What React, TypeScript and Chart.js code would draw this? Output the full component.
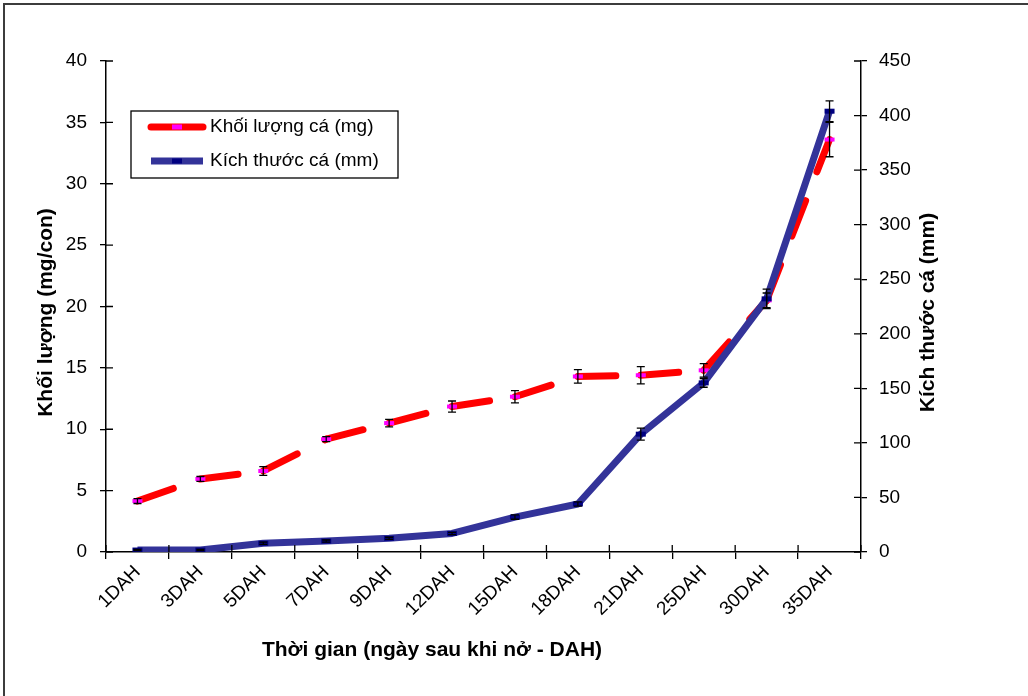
import React, { useEffect, useRef } from 'react';
import { Chart, registerables } from 'chart.js';

Chart.register(...registerables);

// ---- data ----
const categories = ['1DAH', '3DAH', '5DAH', '7DAH', '9DAH', '12DAH', '15DAH', '18DAH', '21DAH', '25DAH', '30DAH', '35DAH'];
const weightMg = [4.15, 5.95, 6.6, 9.2, 10.5, 11.85, 12.65, 14.3, 14.4, 14.8, 20.5, 33.6];
const weightErr = [0.2, 0.2, 0.35, 0.2, 0.3, 0.45, 0.5, 0.55, 0.7, 0.55, 0.6, 1.4];
const lengthMm = [1.8, 1.8, 8, 10, 12.5, 17, 32, 44, 108, 155, 232, 404];
const lengthErr = [0.5, 0.5, 1, 1, 1, 1, 2, 2, 5.5, 4, 9, 9.5];

const weightLabel = 'Khối lượng cá (mg)';
const lengthLabel = 'Kích thước cá (mm)';
const leftTitle = 'Khối lượng (mg/con)';
const rightTitle = 'Kích thước cá (mm)';
const xTitle = 'Thời gian (ngày sau khi nở - DAH)';

const leftMax = 40;
const leftStep = 5;
const rightMax = 450;
const rightStep = 50;

const FONT = '"Liberation Sans", Arial, Helvetica, sans-serif';

const decorPlugin = {
  id: 'decor',
  beforeDraw(chart: any) {
    const { ctx, width, height } = chart;
    ctx.save();
    ctx.fillStyle = '#ffffff';
    ctx.fillRect(0, 0, width, height);
    ctx.strokeStyle = '#3c3c3c';
    ctx.lineWidth = 2;
    ctx.beginPath();
    ctx.moveTo(4, height);
    ctx.lineTo(4, 4);
    ctx.lineTo(width, 4);
    ctx.stroke();
    ctx.restore();
  },
  afterDatasetsDraw(chart: any) {
    const { ctx } = chart;
    const errs = [weightErr, lengthErr];
    ctx.save();
    ctx.strokeStyle = '#000';
    ctx.lineWidth = 1.3;
    chart.data.datasets.forEach((ds: any, di: number) => {
      const meta = chart.getDatasetMeta(di);
      const scale = chart.scales[ds.yAxisID];
      meta.data.forEach((pt: any, i: number) => {
        const v = ds.data[i];
        const e = errs[di][i];
        const yT = scale.getPixelForValue(v + e);
        const yB = scale.getPixelForValue(v - e);
        const x = pt.x;
        ctx.beginPath();
        ctx.moveTo(x, yT);
        ctx.lineTo(x, yB);
        ctx.moveTo(x - 4, yT);
        ctx.lineTo(x + 4, yT);
        ctx.moveTo(x - 4, yB);
        ctx.lineTo(x + 4, yB);
        ctx.stroke();
      });
    });
    ctx.restore();
  },
  afterDraw(chart: any) {
    const { ctx, chartArea: ca, scales } = chart;
    ctx.save();
    // inner halves of the crossing tick marks
    ctx.strokeStyle = '#000';
    ctx.lineWidth = 1.3;
    ctx.beginPath();
    const n = categories.length;
    for (let i = 0; i <= n; i++) {
      const px = ca.left + (i * (ca.right - ca.left)) / n;
      ctx.moveTo(px, ca.bottom);
      ctx.lineTo(px, ca.bottom - 7);
    }
    scales.y.ticks.forEach((t: any) => {
      const py = scales.y.getPixelForValue(t.value);
      ctx.moveTo(ca.left, py);
      ctx.lineTo(ca.left + 7, py);
    });
    scales.y1.ticks.forEach((t: any) => {
      const py = scales.y1.getPixelForValue(t.value);
      ctx.moveTo(ca.right - 7, py);
      ctx.lineTo(ca.right, py);
    });
    ctx.stroke();

    // axis titles
    ctx.fillStyle = '#000';
    ctx.font = `bold 21px ${FONT}`;
    ctx.textAlign = 'center';
    ctx.textBaseline = 'middle';
    const midY = (ca.top + ca.bottom) / 2 + 6;
    ctx.save();
    ctx.translate(ca.left - 60, midY);
    ctx.rotate(-Math.PI / 2);
    ctx.fillText(leftTitle, 0, 0);
    ctx.restore();
    ctx.save();
    ctx.translate(ca.right + 67, midY);
    ctx.rotate(-Math.PI / 2);
    ctx.fillText(rightTitle, 0, 0);
    ctx.restore();
    ctx.fillText(xTitle, ca.left + 326, ca.bottom + 98);

    // legend
    const lx = ca.left + 25;
    const ly = ca.top + 50;
    const lw = 267;
    const lh = 67;
    ctx.fillStyle = '#fff';
    ctx.fillRect(lx, ly, lw, lh);
    ctx.strokeStyle = '#000';
    ctx.lineWidth = 1.3;
    ctx.strokeRect(lx, ly, lw, lh);
    chart.data.datasets.forEach((ds: any, i: number) => {
      const yy = ly + 16 + i * 34;
      ctx.strokeStyle = ds.borderColor;
      ctx.lineWidth = 7;
      ctx.lineCap = i === 0 ? 'round' : 'butt';
      ctx.beginPath();
      ctx.moveTo(lx + 20, yy);
      ctx.lineTo(lx + 72, yy);
      ctx.stroke();
      ctx.lineCap = 'butt';
      ctx.strokeStyle = ds.pointBorderColor;
      ctx.lineWidth = 5;
      ctx.beginPath();
      ctx.moveTo(lx + 46 - 5, yy);
      ctx.lineTo(lx + 46 + 5, yy);
      ctx.stroke();
      ctx.fillStyle = '#000';
      ctx.font = `19px ${FONT}`;
      ctx.textAlign = 'left';
      ctx.textBaseline = 'middle';
      ctx.fillText(ds.label, lx + 79, yy);
    });
    ctx.restore();
  },
};

export default function App() {
  const ref = useRef<HTMLCanvasElement | null>(null);
  useEffect(() => {
    if (!ref.current) return;
    Chart.defaults.font.family = FONT;
    Chart.defaults.font.size = 19;
    Chart.defaults.color = '#000';
    const chart = new Chart(ref.current, {
      type: 'line',
      data: {
        labels: categories,
        datasets: [
          {
            label: weightLabel,
            data: weightMg,
            yAxisID: 'y',
            borderColor: '#ff0000',
            borderWidth: 7,
            borderDash: [38, 31],
            borderCapStyle: 'round',
            borderJoinStyle: 'round',
            pointStyle: 'line',
            pointRadius: 5,
            pointBorderWidth: 4,
            pointBorderColor: '#ff00ff',
            pointBackgroundColor: '#ff00ff',
            tension: 0,
            order: 1,
            segment: {
              borderDashOffset: (c: any) => (c.p0DataIndex % 2 ? 0.01 : 0),
            },
          } as any,
          {
            label: lengthLabel,
            data: lengthMm,
            yAxisID: 'y1',
            borderColor: '#333399',
            borderWidth: 7,
            borderJoinStyle: 'round',
            pointStyle: 'line',
            pointRadius: 5,
            pointBorderWidth: 5,
            pointBorderColor: '#000080',
            pointBackgroundColor: '#000080',
            tension: 0,
            order: 0,
          } as any,
        ],
      },
      options: {
        animation: false,
        responsive: false,
        events: [],
        layout: { padding: { left: 0, top: 61, right: 1028 - 861 - 60, bottom: 696 - 552 - 100 } },
        plugins: {
          legend: { display: false },
          tooltip: { enabled: false },
        },
        scales: {
          x: {
            type: 'category',
            offset: true,
            grid: { offset: true, drawOnChartArea: false, color: '#000', lineWidth: 1.3, tickLength: 7 },
            border: { color: '#000', width: 1.5 },
            ticks: { autoSkip: false, maxRotation: 45, minRotation: 45, padding: 2, font: { size: 19 }, color: '#000' },
            afterFit: (s: any) => {
              s.height = 100;
            },
          },
          y: {
            position: 'left',
            min: 0,
            max: leftMax,
            grid: { drawOnChartArea: false, color: '#000', lineWidth: 1.3, tickLength: 6 },
            border: { color: '#000', width: 1.5 },
            ticks: { stepSize: leftStep, padding: 13, font: { size: 19 }, color: '#000' },
            afterFit: (s: any) => {
              s.width = 106;
            },
          },
          y1: {
            position: 'right',
            min: 0,
            max: rightMax,
            grid: { drawOnChartArea: false, color: '#000', lineWidth: 1.3, tickLength: 6 },
            border: { color: '#000', width: 1.5 },
            ticks: { stepSize: rightStep, padding: 12, font: { size: 19 }, color: '#000' },
            afterFit: (s: any) => {
              s.width = 60;
            },
          },
        },
      },
      plugins: [decorPlugin],
    });
    return () => chart.destroy();
  }, []);
  return (
    <div style={{ position: 'absolute', left: 0, top: 0, width: 1028, height: 696, overflow: 'hidden', background: '#fff' }}>
      <canvas ref={ref} width={1028} height={696} style={{ display: 'block' }} />
    </div>
  );
}
